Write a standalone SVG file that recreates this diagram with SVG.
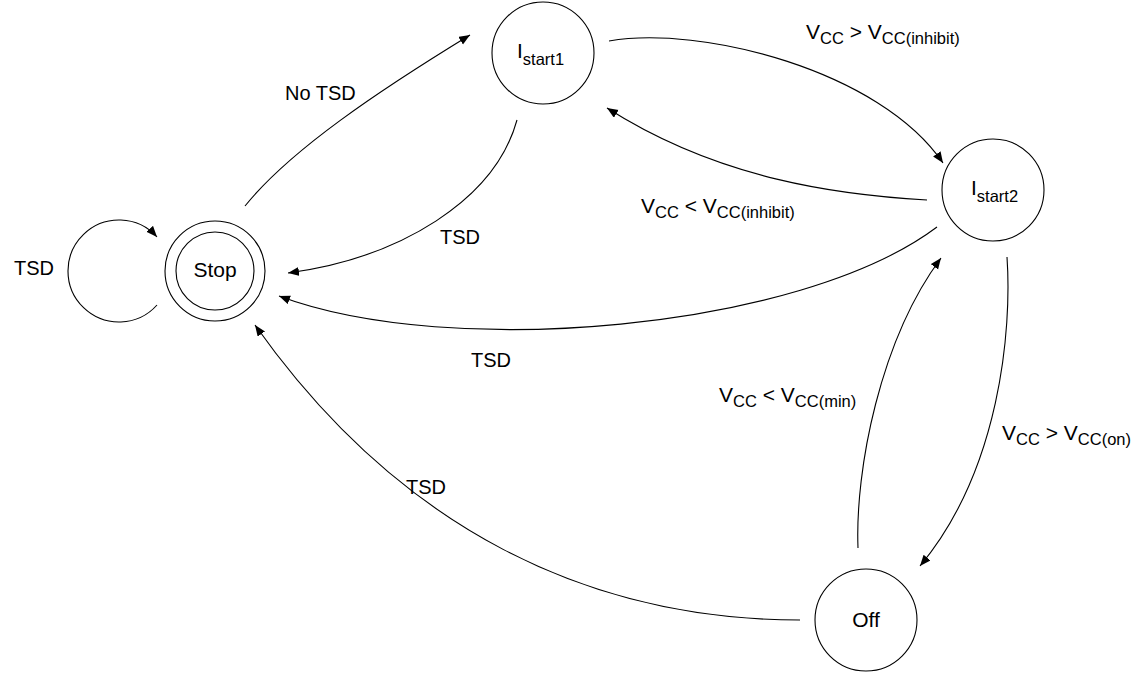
<svg xmlns="http://www.w3.org/2000/svg" width="1143" height="673" viewBox="0 0 1143 673">
<style>
.n{fill:#fff;stroke:#000;stroke-width:1.1}
.e{fill:none;stroke:#000;stroke-width:1.1;marker-end:url(#ah)}
text{font-family:"Liberation Sans",Arial,sans-serif;fill:#000}
.nl{font-size:21px}
.el{font-size:21px}
.s{font-size:16.5px}
.t{font-size:20px}
</style>
<defs>
<marker id="ah" markerUnits="userSpaceOnUse" markerWidth="12" markerHeight="10" refX="11" refY="4.5" orient="auto">
<path d="M0,0 L11,4.5 L0,9 Z" fill="#000"/>
</marker>
</defs>
<rect width="1143" height="673" fill="#fff"/>
<g id="connectors">
<path class="e" d="M157,305 A51,51 0 1 1 157,237"/>
<path class="e" d="M245,206 C290,150 380,90 470,35"/>
<path class="e" d="M517,120 C495,200 400,258 288,273"/>
<path class="e" d="M609,41 C700,25 880,70 943,163"/>
<path class="e" d="M927,200 C840,195 720,180 607,108"/>
<path class="e" d="M937,227 C800,330 450,360 279,296"/>
<path class="e" d="M1007,257 C1012,330 1000,470 920,566"/>
<path class="e" d="M858,548 C855,470 880,340 941,258"/>
<path class="e" d="M800,620 C590,620 400,530 255,325"/>
</g>
<g id="stop">
<circle class="n" cx="215" cy="271" r="50"/>
<circle class="n" cx="215" cy="271" r="39"/>
<text class="nl" x="215" y="277" text-anchor="middle">Stop</text>
</g>
<g id="istart1">
<circle class="n" cx="543" cy="53" r="51"/>
<text class="nl" x="517" y="58">I<tspan class="s" dy="7">start1</tspan></text>
</g>
<g id="istart2">
<circle class="n" cx="993" cy="190" r="51"/>
<text class="nl" x="971" y="195">I<tspan class="s" dy="7">start2</tspan></text>
</g>
<g id="off">
<circle class="n" cx="866" cy="620" r="51"/>
<text class="nl" x="866" y="627" text-anchor="middle">Off</text>
</g>
<g id="labels">
<text class="t" x="14" y="275">TSD</text>
<text class="t" x="285" y="100">No TSD</text>
<text class="t" x="440" y="244">TSD</text>
<text class="t" x="471" y="367">TSD</text>
<text class="t" x="406" y="494">TSD</text>
<text class="el" x="806" y="39">V<tspan class="s" dy="5">CC</tspan><tspan dy="-5"> &gt; V</tspan><tspan class="s" dy="5">CC(inhibit)</tspan></text>
<text class="el" x="641" y="213">V<tspan class="s" dy="5">CC</tspan><tspan dy="-5"> &lt; V</tspan><tspan class="s" dy="5">CC(inhibit)</tspan></text>
<text class="el" x="719" y="402">V<tspan class="s" dy="5">CC</tspan><tspan dy="-5"> &lt; V</tspan><tspan class="s" dy="5">CC(min)</tspan></text>
<text class="el" x="1002" y="440">V<tspan class="s" dy="5">CC</tspan><tspan dy="-5"> &gt; V</tspan><tspan class="s" dy="5">CC(on)</tspan></text>
</g>
</svg>
